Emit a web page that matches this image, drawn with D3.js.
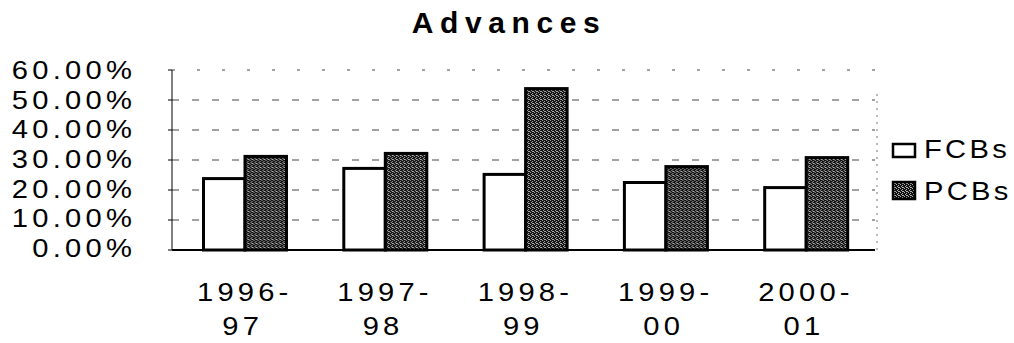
<!DOCTYPE html>
<html>
<head>
<meta charset="utf-8">
<script src="https://cdn.jsdelivr.net/npm/d3@7"></script>
<style>
  html, body { margin: 0; padding: 0; background: #fff; }
  svg { display: block; font-family: "Liberation Sans", Arial, sans-serif; }
</style>
</head>
<body>
<svg id="chart" width="1014" height="343"></svg>
<script>
// Share of advances, FCBs vs PCBs, by fiscal year
const years = ["1996-97", "1997-98", "1998-99", "1999-00", "2000-01"];
const seriesNames = ["FCBs", "PCBs"];
const fcbValues = [23.8, 27.2, 25.2, 22.5, 20.8];
const pcbValues = [31.2, 32.2, 53.8, 27.8, 30.8];
const yTicks = [0, 10, 20, 30, 40, 50, 60];

const FONT = "'Liberation Sans', Arial, sans-serif";
const LABEL_SIZE = 26.5;
const WIDEN = 1.1;   // labels are set in a slightly widened face
const Y_SPACING = 3.9, X_SPACING = 3.8, LEGEND_SPACING = 3;

const svg = d3.select("#chart");

// speckled dark fill for PCBs
const defs = svg.append("defs");
const pat = defs.append("pattern").attr("id", "speckle")
  .attr("width", 4).attr("height", 4).attr("patternUnits", "userSpaceOnUse");
pat.append("rect").attr("width", 4).attr("height", 4).attr("fill", "#111");
[[0, 0], [2, 1], [1, 2], [3, 3], [2, 3]].forEach(([px, py]) =>
  pat.append("rect").attr("x", px).attr("y", py).attr("width", 1).attr("height", 1).attr("fill", "#b0b0b0"));

const plotLeft = 172, plotRight = 875, plotTop = 70, plotBottom = 250;

const y = d3.scaleLinear().domain([0, 60]).range([plotBottom, plotTop]);
const x0 = d3.scaleBand().domain(years).range([plotLeft + 1.5, plotRight]);
const x1 = d3.scaleBand().domain(seriesNames).range([30, 113]);

// gridlines
svg.append("g").selectAll("line").data(yTicks.filter(d => d > 0)).join("line")
  .attr("x1", plotLeft).attr("x2", plotRight)
  .attr("y1", d => y(d)).attr("y2", d => y(d))
  .attr("stroke", "#444").attr("stroke-width", 1)
  .attr("stroke-dasharray", d => d === 60 ? "3 22" : "7 13");

// right plot border (faint, dotted)
svg.append("line").attr("x1", plotRight + 2).attr("x2", plotRight + 2)
  .attr("y1", y(52)).attr("y2", y(0))
  .attr("stroke", "#777").attr("stroke-width", 1).attr("stroke-dasharray", "2 5");

// bars
const groups = svg.append("g").selectAll("g").data(years).join("g")
  .attr("transform", d => `translate(${x0(d)},0)`);

groups.append("rect")
  .attr("x", x1("FCBs")).attr("width", x1.bandwidth())
  .attr("y", (d, i) => y(fcbValues[i])).attr("height", (d, i) => y(0) - y(fcbValues[i]))
  .attr("fill", "#fff").attr("stroke", "#000").attr("stroke-width", 3);

groups.append("rect")
  .attr("x", x1("PCBs")).attr("width", x1.bandwidth())
  .attr("y", (d, i) => y(pcbValues[i])).attr("height", (d, i) => y(0) - y(pcbValues[i]))
  .attr("fill", "url(#speckle)").attr("stroke", "#000").attr("stroke-width", 3);

// axis lines
svg.append("line").attr("x1", plotLeft).attr("x2", plotLeft).attr("y1", plotTop).attr("y2", plotBottom)
  .attr("stroke", "#000").attr("stroke-width", 1);
svg.append("g").selectAll("line").data(yTicks).join("line")
  .attr("x1", plotLeft - 4).attr("x2", plotLeft).attr("y1", d => y(d)).attr("y2", d => y(d))
  .attr("stroke", "#000");
svg.append("line").attr("x1", plotLeft).attr("x2", plotRight).attr("y1", plotBottom).attr("y2", plotBottom)
  .attr("stroke", "#000").attr("stroke-width", 2);

// y tick labels
const yLabel = d3.scaleLinear().domain([0, 60]).range([247, 69]);
const yAxis = svg.append("g").attr("transform", `translate(${132 + Y_SPACING * WIDEN},0)`)
  .call(d3.axisLeft(yLabel).tickValues(yTicks).tickSize(0).tickPadding(0)
    .tickFormat(d => d.toFixed(2) + "%"));
yAxis.select(".domain").remove();
yAxis.selectAll("text")
  .attr("x", 0).attr("dy", "0.36em")
  .attr("transform", `scale(${WIDEN},1)`)
  .attr("font-size", LABEL_SIZE).attr("fill", "#000").attr("font-family", FONT)
  .style("letter-spacing", Y_SPACING + "px");

// x category labels, two lines each
const xShift = X_SPACING * WIDEN / 2;
const xl = svg.append("g").selectAll("g").data(years).join("g");
xl.append("text")
  .attr("transform", d => `translate(${x0(d) + x0.bandwidth() / 2 - 1 + xShift},301) scale(${WIDEN},1)`)
  .attr("text-anchor", "middle").attr("font-size", LABEL_SIZE).attr("fill", "#000")
  .style("letter-spacing", X_SPACING + "px")
  .text(d => d.split("-")[0] + "-");
xl.append("text")
  .attr("transform", d => `translate(${x0(d) + x0.bandwidth() / 2 - 3 + xShift},335) scale(${WIDEN},1)`)
  .attr("text-anchor", "middle").attr("font-size", LABEL_SIZE).attr("fill", "#000")
  .style("letter-spacing", X_SPACING + "px")
  .text(d => d.split("-")[1]);

// title
svg.append("text").attr("x", 509).attr("y", 33).attr("text-anchor", "middle")
  .attr("font-size", 30).attr("font-weight", "bold").style("letter-spacing", "6.6px")
  .text("Advances");

// legend
const legendBoxes = [{ y: 144, h: 13 }, { y: 182, h: 17 }];
const legendBaselines = [158, 200];
const legend = svg.append("g").selectAll("g").data(seriesNames).join("g");
legend.append("rect")
  .attr("x", 893).attr("y", (d, i) => legendBoxes[i].y)
  .attr("width", 22).attr("height", (d, i) => legendBoxes[i].h)
  .attr("fill", (d, i) => i === 0 ? "#fff" : "url(#speckle)")
  .attr("stroke", "#000").attr("stroke-width", 2.5);
legend.append("text")
  .attr("transform", (d, i) => `translate(924,${legendBaselines[i]}) scale(${WIDEN},1)`)
  .attr("font-size", LABEL_SIZE).attr("fill", "#000")
  .style("letter-spacing", LEGEND_SPACING + "px").text(d => d);
</script>
</body>
</html>
